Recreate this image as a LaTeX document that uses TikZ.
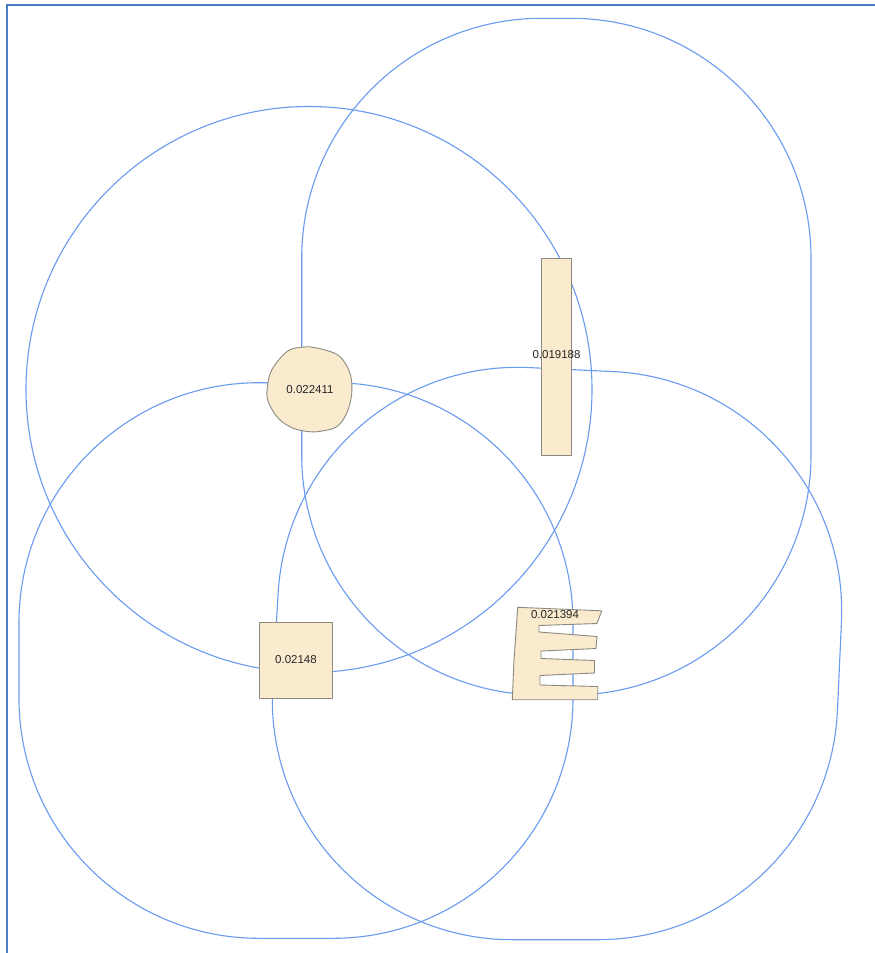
\documentclass[tikz,border=0pt]{standalone}
\usepackage{fontspec}
\setmainfont{Liberation Sans}
\usetikzlibrary{calc}
\definecolor{bufblue}{RGB}{105,155,240}
\definecolor{frameblue}{RGB}{74,126,196}
\definecolor{featfill}{RGB}{250,235,206}
\definecolor{featline}{RGB}{140,138,128}
\begin{document}
\begin{tikzpicture}[x=1pt,y=-1pt,
  buffer/.style={draw=bufblue,line width=1.1pt},
  feature/.style={draw=featline,fill=featfill,line width=0.9pt},
  lbl/.style={font=\fontsize{11.5}{13}\selectfont,text=black!85,inner sep=0pt}]
\useasboundingbox (0,0) rectangle (875,953);
\fill[white] (0,0) rectangle (875,953);
% frame
\draw[frameblue,line width=2pt] (6.5,953) -- (6.5,5.3) -- (875,5.3);

% hull points of the E feature
\coordinate (P1) at (517.7,607.3);
\coordinate (P2) at (601.7,611.3);
\coordinate (P3) at (597.7,699.7);
\coordinate (P4) at (512.3,699.7);

% buffers
\draw[buffer,rounded corners=240pt] (301.7,18.3) rectangle (811,695);
\draw[buffer,rounded corners=240pt] (19,382.7) rectangle (573,938.3);
\draw[buffer] (309,389.5) circle[radius=283];
\draw[buffer] ($(P1)+(-87.3:240)$) -- ($(P2)+(-87.3:240)$)
  arc[start angle=-87.3,end angle=2.6,radius=240]
  -- ($(P3)+(2.6:240)$)
  arc[start angle=2.6,end angle=90,radius=240]
  -- ($(P4)+(90:240)$)
  arc[start angle=90,end angle=183.34,radius=240]
  -- ($(P1)+(183.34:240)$)
  arc[start angle=183.34,end angle=272.7,radius=240] -- cycle;

% features
\draw[feature] plot[smooth cycle,tension=0.6] coordinates {
  (308.3,346.7) (325,350) (340,356.7) (350,373.3) (351.7,393.3)
  (346.7,413.3) (336.7,426.7) (322,431) (310,431.7) (293.3,428.3)
  (278.3,418.3) (268.3,401.7) (267.3,388.3) (271.7,370) (286.7,351.7) (300,347.3)};
\node[lbl] (circlbl) at (310,389.5) {0.022411};

\node[feature,inner sep=0pt,minimum width=29.3pt,minimum height=196.7pt] (strip) at (556.35,356.65) {};
\node[lbl] (striplbl) at (556.5,355) {0.019188};

\node[feature,inner sep=0pt,minimum width=73.7pt,minimum height=75.6pt] (square) at (295.85,660.5) {};
\node[lbl] (squarelbl) at (296,660) {0.02148};

\draw[feature] (517.7,607.3) -- (601.7,610.8) -- (597,623.5) -- (539,625.5)
  -- (539,632) -- (597,636.5) -- (596,648.5) -- (541,651)
  -- (541,658.5) -- (594.5,660.5) -- (594.5,673) -- (540,675.5)
  -- (540,685) -- (597.7,686.5) -- (597.7,699.7) -- (512.3,699.7)
  -- (514,660) -- cycle;
\node[lbl] (elbl) at (555,615) {0.021394};
\end{tikzpicture}
\end{document}
